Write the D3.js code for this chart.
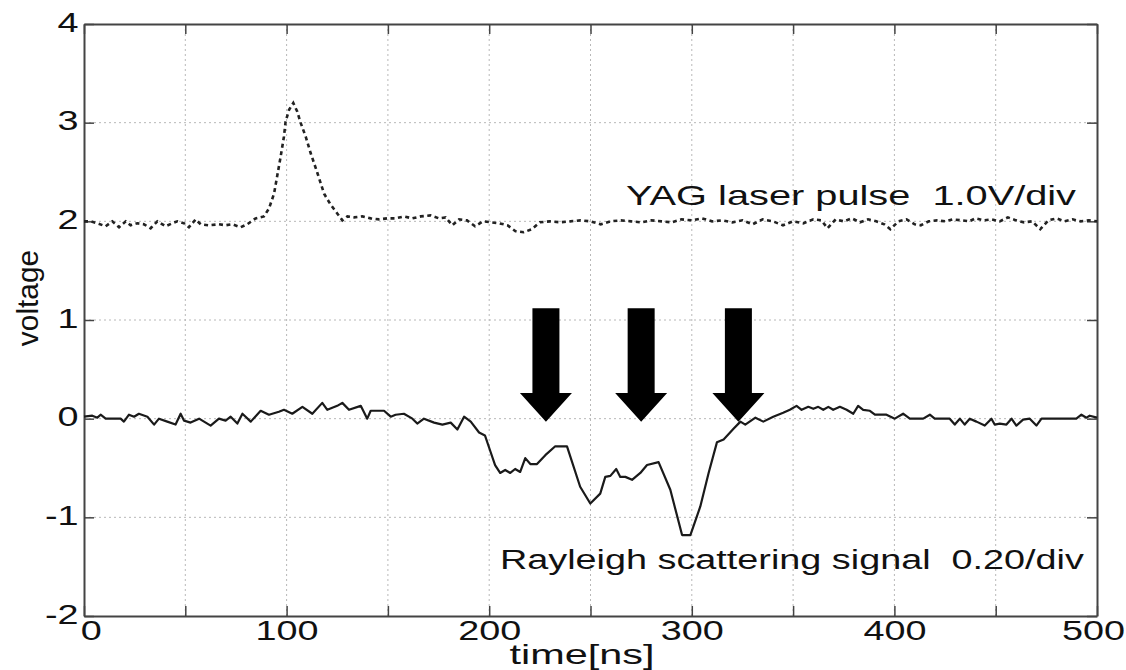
<!DOCTYPE html>
<html>
<head>
<meta charset="utf-8">
<script src="https://cdn.jsdelivr.net/npm/d3@7"></script>
<style>
  body { margin: 0; background: #fff; }
  text { font-family: "Liberation Sans", Arial, sans-serif; fill: #111; white-space: pre; }
</style>
</head>
<body>
<div id="chart"></div>
<script>
// ---- data ----
var xTicks = [0, 50, 100, 150, 200, 250, 300, 350, 400, 450, 500];
var xTickLabels = [0, 100, 200, 300, 400, 500];
var yTicks = [-2, -1, 0, 1, 2, 3, 4];

// YAG laser pulse (dotted), time [ns] / voltage
var yagT = [0, 3.3, 6.6, 10.7, 14, 17.3, 20.6, 23, 26.3, 29.6, 32.9, 36.2, 40.3, 43.6, 46.1, 49.4, 51.8, 55.1, 57.6, 61.7,
  66.6, 69.9, 73.2, 77.3, 80.6, 84.7, 88.8, 91.3, 93.8, 97.1, 98.7, 99.5, 101.2, 103.3, 105.3, 106.9, 109.4, 111.9, 115.2, 118.5,
  121.7, 125, 127.5, 130, 133.3, 137.4, 141.5, 145.6, 149.7, 153.8, 157.9, 162.1, 166.2, 171.1, 175.2, 178.5, 181.8, 185.1, 189, 193,
  197, 201, 205, 209, 213, 217, 221, 225, 230, 235, 240, 245, 250, 255, 260, 265, 270, 275, 280, 285,
  290, 295, 300, 305, 310, 315, 320, 325, 330, 335, 340, 345, 350, 355, 360, 364, 367, 371, 375, 379,
  383, 387, 391, 395, 398, 402, 406, 410, 413, 417, 421, 425, 429, 433, 437, 440, 444, 448, 452, 456,
  460, 464, 468, 472, 476, 480, 484, 488, 492, 496, 500];
var yagV = [2.00, 2.00, 1.98, 1.95, 2.00, 1.94, 2.00, 1.96, 1.98, 1.97, 1.93, 2.00, 1.95, 1.98, 2.00, 1.98, 1.94, 2.02, 1.97, 1.96,
  1.97, 1.96, 1.97, 1.94, 1.97, 2.03, 2.05, 2.13, 2.28, 2.66, 2.86, 3.01, 3.13, 3.20, 3.11, 3.00, 2.86, 2.69, 2.49, 2.28,
  2.17, 2.08, 2.01, 2.05, 2.04, 2.05, 2.03, 2.02, 2.03, 2.03, 2.05, 2.03, 2.05, 2.06, 2.03, 2.04, 1.96, 2.02, 2.01, 1.95,
  2.00, 1.99, 1.98, 1.96, 1.90, 1.89, 1.92, 1.99, 2.00, 1.99, 2.00, 2.01, 2.00, 1.97, 2.00, 2.01, 2.00, 1.99, 2.01, 2.00,
  1.99, 2.02, 2.01, 2.03, 2.00, 2.01, 1.99, 2.01, 1.97, 2.02, 2.00, 1.96, 2.00, 1.98, 2.02, 2.01, 1.93, 2.02, 2.00, 2.03,
  1.99, 2.02, 2.00, 1.97, 1.92, 2.00, 2.02, 1.97, 1.96, 2.00, 2.01, 2.00, 2.02, 2.01, 2.00, 2.03, 2.01, 2.02, 2.00, 2.04,
  2.01, 1.99, 2.00, 1.92, 2.01, 2.03, 2.00, 2.02, 2.00, 2.01, 2.00];

// Rayleigh scattering signal (solid)
var rayT = [0, 4.1, 6.6, 8.2, 10.7, 18.1, 19.7, 22.2, 24.7, 27.1, 31.3, 34.6, 37, 41.1, 45.2, 47.7, 49.4, 52.6, 56.8, 62.5,
  66.6, 69.9, 72.4, 75.7, 78.2, 82.3, 87.2, 91.3, 96.2, 98.7, 102.8, 107.8, 112.7, 117.6, 120.1, 125, 127.5, 130.8, 136.6, 139.8,
  141.5, 148.1, 151.4, 153.8, 157.9, 162.1, 164.5, 167.8, 172.8, 176.9, 181, 184.3, 187.6, 190.9, 195, 197.9, 200.4, 202.9, 205.4, 207.9,
  210.4, 212.8, 215.3, 217.8, 220.3, 223.6, 227.7, 232.6, 238.4, 244.9, 249.9, 254.8, 257.3, 259.8, 262.7, 264.7, 267.2, 270.5, 274.6, 277.9,
  283.6, 289.4, 295.2, 299.3, 304.2, 308.3, 312.4, 315.7, 320.7, 324, 326.4, 331.4, 335.3, 340.2, 345.1, 348.4, 351.7, 354.2, 357.5, 360,
  362.4, 364.9, 367.4, 369.8, 373.1, 376.4, 379.7, 382.1, 384.6, 387.9, 390.4, 396.1, 400.2, 404.3, 407.6, 414.2, 417.5, 419.9, 427.3, 429.8,
  432.3, 434.7, 437.2, 440.5, 444.6, 447.9, 449.5, 452, 455.3, 457.8, 460.2, 463.5, 466.8, 470.1, 472.6, 489.8, 492.3, 494.8, 496.4, 500];
var rayV = [0.02, 0.03, 0.01, 0.04, 0.00, 0.00, -0.03, 0.04, 0.02, 0.05, 0.02, -0.06, 0.00, -0.03, -0.06, 0.05, -0.02, -0.04, 0.00, -0.07,
  0.00, -0.02, 0.02, -0.05, 0.05, -0.03, 0.08, 0.04, 0.07, 0.09, 0.05, 0.12, 0.05, 0.16, 0.09, 0.13, 0.16, 0.09, 0.13, 0.00,
  0.08, 0.08, 0.02, 0.04, 0.05, 0.00, -0.05, 0.00, -0.04, -0.06, -0.04, -0.11, 0.02, -0.03, -0.14, -0.17, -0.32, -0.47, -0.55, -0.52,
  -0.55, -0.51, -0.54, -0.40, -0.46, -0.46, -0.37, -0.28, -0.28, -0.69, -0.86, -0.76, -0.59, -0.58, -0.51, -0.59, -0.59, -0.62, -0.55, -0.47,
  -0.44, -0.72, -1.18, -1.18, -0.89, -0.55, -0.24, -0.21, -0.10, -0.03, -0.06, 0.01, -0.03, 0.02, 0.06, 0.09, 0.13, 0.09, 0.12, 0.10,
  0.12, 0.09, 0.12, 0.09, 0.12, 0.09, 0.05, 0.13, 0.09, 0.08, 0.04, 0.04, 0.00, 0.05, 0.00, 0.00, 0.04, 0.00, 0.00, -0.06,
  0.00, -0.06, 0.00, -0.03, -0.07, 0.00, -0.06, -0.05, -0.06, 0.00, -0.07, -0.01, 0.00, -0.07, 0.00, 0.00, 0.04, 0.01, 0.03, 0.01];

// arrows: time of arrow, voltage of shaft top / head base / tip
var arrowT = [228, 275, 323];
var arrowTop = 1.12, arrowHead = 0.26, arrowTip = -0.03;

var labelYag = "YAG laser pulse  1.0V/div";
var labelRay = "Rayleigh scattering signal  0.20/div";

// ---- drawing ----
var W = 1126, H = 670;
var stretch = 1.35;   // lettering in the picture is wide

var svg = d3.select("#chart").append("svg")
    .attr("width", W)
    .attr("height", H);

svg.append("rect").attr("width", W).attr("height", H).style("fill", "#fff");

var x = d3.scaleLinear().domain([0, 500]).range([84, 1097]);
var y = d3.scaleLinear().domain([-2, 4]).range([616, 24]);

/** grid **/
svg.append("g").selectAll("line.gx")
    .data(xTicks.slice(1, -1)).enter().append("line")
    .attr("x1", d => x(d)).attr("x2", d => x(d))
    .attr("y1", y(-2)).attr("y2", y(4))
    .style("stroke", "#b8b8b8").style("stroke-width", 1).style("stroke-dasharray", "2,3");

svg.append("g").selectAll("line.gy")
    .data(yTicks.slice(1, -1)).enter().append("line")
    .attr("x1", x(0)).attr("x2", x(500))
    .attr("y1", d => y(d)).attr("y2", d => y(d))
    .style("stroke", "#b8b8b8").style("stroke-width", 1).style("stroke-dasharray", "2,3");

/** axes (box with inward ticks) **/
function styleAxis(g) {
  g.select(".domain").style("stroke", "#444").style("stroke-width", 2);
  g.selectAll(".tick line").style("stroke", "#444").style("stroke-width", 1.5);
  g.selectAll("text").style("font-family", "'Liberation Sans', Arial, sans-serif")
    .style("font-size", "28px").style("fill", "#111");
}

var bottom = svg.append("g")
    .attr("transform", "translate(0," + y(-2) + ")")
    .call(d3.axisBottom(x).tickValues(xTicks).tickSize(-10).tickSizeOuter(0).tickPadding(4)
      .tickFormat(d => xTickLabels.indexOf(d) >= 0 ? d : ""))
    .call(styleAxis);
bottom.selectAll("text")
    .attr("transform", "scale(" + stretch + ",1)")
    .attr("dx", d => d === 0 ? 5 : (d === 500 ? -3 : 0));

svg.append("g")
    .attr("transform", "translate(0," + y(4) + ")")
    .call(d3.axisTop(x).tickValues(xTicks).tickSize(-10).tickSizeOuter(0).tickFormat(""))
    .call(styleAxis);

var left = svg.append("g")
    .attr("transform", "translate(" + x(0) + ",0)")
    .call(d3.axisLeft(y).tickValues(yTicks).tickSize(-10).tickSizeOuter(0).tickPadding(4).tickFormat(d3.format("d")))
    .call(styleAxis);
left.selectAll("text")
    .attr("transform", "scale(" + stretch + ",1)")
    .attr("dy", "0.25em")
    .text(d => d < 0 ? "-" + Math.abs(d) : d);

svg.append("g")
    .attr("transform", "translate(" + x(500) + ",0)")
    .call(d3.axisRight(y).tickValues(yTicks).tickSize(-10).tickSizeOuter(0).tickFormat(""))
    .call(styleAxis);

/** series **/
var line = d3.line().x(d => x(d[0])).y(d => y(d[1]));

svg.append("path")
    .datum(d3.zip(yagT, yagV))
    .attr("d", line)
    .style("fill", "none")
    .style("stroke", "#222")
    .style("stroke-width", 2.6)
    .style("stroke-dasharray", "4,3.5");

svg.append("path")
    .datum(d3.zip(rayT, rayV))
    .attr("d", line)
    .style("fill", "none")
    .style("stroke", "#1a1a1a")
    .style("stroke-width", 2.2)
    .style("stroke-linejoin", "round");

/** arrows **/
var shaftHalf = 13.5, headHalf = 26;
svg.append("g").selectAll("path.arrow")
    .data(arrowT).enter().append("path")
    .attr("d", function(d) {
      var cx = x(d);
      return "M" + (cx - shaftHalf) + "," + y(arrowTop) +
             "L" + (cx + shaftHalf) + "," + y(arrowTop) +
             "L" + (cx + shaftHalf) + "," + y(arrowHead) +
             "L" + (cx + headHalf) + "," + y(arrowHead) +
             "L" + cx + "," + y(arrowTip) +
             "L" + (cx - headHalf) + "," + y(arrowHead) +
             "L" + (cx - shaftHalf) + "," + y(arrowHead) + "Z";
    })
    .style("fill", "#000");

/** labels **/
svg.append("text")
    .text(labelYag)
    .attr("text-anchor", "end")
    .attr("transform", "translate(1076,205) scale(1.42,1)")
    .style("font-size", "28px");

svg.append("text")
    .text(labelRay)
    .attr("text-anchor", "start")
    .attr("transform", "translate(500,569) scale(" + stretch + ",1)")
    .style("font-size", "28px");

svg.append("text")
    .text("time[ns]")
    .attr("text-anchor", "middle")
    .attr("transform", "translate(582,664) scale(1.48,1)")
    .style("font-size", "28px");

svg.append("text")
    .text("voltage")
    .attr("text-anchor", "middle")
    .attr("transform", "translate(38,298) rotate(-90) scale(1.15,1.15)")
    .style("font-size", "26px");
</script>
</body>
</html>
